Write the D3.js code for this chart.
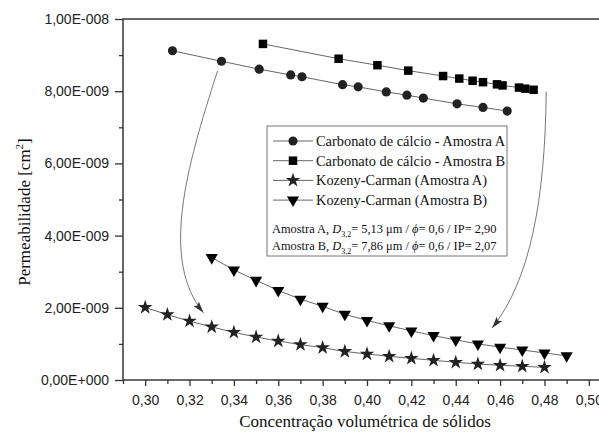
<!DOCTYPE html>
<html>
<head>
<meta charset="utf-8">
<script src="https://cdn.jsdelivr.net/npm/d3@7"></script>
<style>
  body { margin: 0; background: #fff; }
  svg { display: block; }
  .tick text { font-family: "Liberation Sans", Arial, sans-serif; font-size: 14px; fill: #222; }
  .serif { font-family: "Liberation Serif", "Times New Roman", serif; fill: #111; }
</style>
</head>
<body>
<div id="chart"></div>
<script>
// data (permeability in cm2)
var carbA_x = [0.3123, 0.3344, 0.3514, 0.3656, 0.3707, 0.3890, 0.3960, 0.4087, 0.4180, 0.4254, 0.4406, 0.4523, 0.4632];
var carbA_y = [9.12e-9, 8.83e-9, 8.61e-9, 8.45e-9, 8.40e-9, 8.18e-9, 8.12e-9, 7.98e-9, 7.89e-9, 7.81e-9, 7.65e-9, 7.55e-9, 7.45e-9];

var carbB_x = [0.3531, 0.3872, 0.4047, 0.4186, 0.4343, 0.4416, 0.4476, 0.4523, 0.4586, 0.4611, 0.4685, 0.4713, 0.4751];
var carbB_y = [9.31e-9, 8.90e-9, 8.72e-9, 8.57e-9, 8.42e-9, 8.35e-9, 8.29e-9, 8.25e-9, 8.19e-9, 8.16e-9, 8.10e-9, 8.07e-9, 8.04e-9];

var kozA_x = [0.30, 0.31, 0.32, 0.33, 0.34, 0.35, 0.36, 0.37, 0.38, 0.39, 0.40, 0.41, 0.42, 0.43, 0.44, 0.45, 0.46, 0.47, 0.48];
var kozA_y = [2.01e-9, 1.81e-9, 1.63e-9, 1.47e-9, 1.32e-9, 1.19e-9, 1.08e-9, 0.98e-9, 0.895e-9, 0.79e-9, 0.72e-9, 0.656e-9, 0.60e-9, 0.545e-9, 0.49e-9, 0.443e-9, 0.407e-9, 0.38e-9, 0.35e-9];

var kozB_x = [0.33, 0.34, 0.35, 0.36, 0.37, 0.38, 0.39, 0.40, 0.41, 0.42, 0.43, 0.44, 0.45, 0.46, 0.47, 0.48, 0.49];
var kozB_y = [3.39e-9, 3.05e-9, 2.76e-9, 2.48e-9, 2.24e-9, 2.04e-9, 1.82e-9, 1.65e-9, 1.50e-9, 1.36e-9, 1.23e-9, 1.11e-9, 1.00e-9, 0.91e-9, 0.83e-9, 0.75e-9, 0.67e-9];

var xTicks = [0.30, 0.32, 0.34, 0.36, 0.38, 0.40, 0.42, 0.44, 0.46, 0.48, 0.50];
var xTickLabels = ["0,30", "0,32", "0,34", "0,36", "0,38", "0,40", "0,42", "0,44", "0,46", "0,48", "0,50"];
var yTicks = [0, 2e-9, 4e-9, 6e-9, 8e-9, 1e-8];
var yTickLabels = ["0,00E+000", "2,00E-009", "4,00E-009", "6,00E-009", "8,00E-009", "1,00E-008"];

var seriesNames = ["Carbonato de cálcio - Amostra A", "Carbonato de cálcio - Amostra B",
                   "Kozeny-Carman (Amostra A)", "Kozeny-Carman (Amostra B)"];

// arrows (data coords: start, control1, control2, end)
var arrow1 = [[0.3326, 8.56e-9], [0.3182, 5.82e-9], [0.3069, 3.32e-9], [0.3263, 1.86e-9]];
var arrow2 = [[0.4808, 7.99e-9], [0.4803, 4.99e-9], [0.4736, 2.77e-9], [0.4564, 1.44e-9]];

var W = 599, H = 435;
var plot = {left: 123, top: 19, right: 611, bottom: 380};

var svg = d3.select('#chart').append('svg')
    .attr('width', W).attr('height', H);

var x = d3.scaleLinear().domain([0.29, 0.51]).range([plot.left, plot.right]);
var y = d3.scaleLinear().domain([0, 1e-8]).range([plot.bottom, plot.top]);

// frame
svg.append('rect')
    .attr('x', plot.left).attr('y', plot.top)
    .attr('width', plot.right - plot.left).attr('height', plot.bottom - plot.top)
    .attr('fill', 'none').attr('stroke', '#444').attr('stroke-width', 1.6);

// axes
var xMinor = d3.range(0.29, 0.5101, 0.01).filter(function (v) { return Math.round(v * 100) % 2 === 1; });
svg.append('g').attr('transform', 'translate(0,' + plot.bottom + ')')
    .call(d3.axisBottom(x).tickValues(xMinor).tickSize(4).tickFormat(''))
    .call(function (g) { g.select('.domain').remove(); g.selectAll('line').attr('stroke', '#333').attr('stroke-width', 1.3); });
svg.append('g').attr('transform', 'translate(0,' + plot.bottom + ')')
    .call(d3.axisBottom(x).tickValues(xTicks).tickSize(6).tickPadding(9)
        .tickFormat(function (d, i) { return xTickLabels[i]; }))
    .call(function (g) { g.select('.domain').remove(); g.selectAll('line').attr('stroke', '#333').attr('stroke-width', 1.3); });

var yMinor = [1e-9, 3e-9, 5e-9, 7e-9, 9e-9];
svg.append('g').attr('transform', 'translate(' + plot.left + ',0)')
    .call(d3.axisLeft(y).tickValues(yMinor).tickSize(4).tickFormat(''))
    .call(function (g) { g.select('.domain').remove(); g.selectAll('line').attr('stroke', '#333').attr('stroke-width', 1.3); });
svg.append('g').attr('transform', 'translate(' + plot.left + ',0)')
    .call(d3.axisLeft(y).tickValues(yTicks).tickSize(8).tickPadding(6)
        .tickFormat(function (d, i) { return yTickLabels[i]; }))
    .call(function (g) { g.select('.domain').remove(); g.selectAll('line').attr('stroke', '#333').attr('stroke-width', 1.3); });

// axis titles
svg.append('text').attr('class', 'serif')
    .attr('x', (x(0.30) + x(0.50)) / 2 - 2).attr('y', 427)
    .attr('text-anchor', 'middle').style('font-size', '17px')
    .text('Concentração volumétrica de sólidos');

var yt = svg.append('text').attr('class', 'serif')
    .attr('transform', 'translate(30,212) rotate(-90)')
    .attr('text-anchor', 'middle').style('font-size', '17px');
yt.append('tspan').text('Permeabilidade [cm');
yt.append('tspan').attr('dy', -7).style('font-size', '11px').text('2');
yt.append('tspan').attr('dy', 7).text(']');

// arrows
var defs = svg.append('defs');
defs.append('marker').attr('id', 'ah')
    .attr('viewBox', '0 0 10 6').attr('refX', 10).attr('refY', 3)
    .attr('markerWidth', 12).attr('markerHeight', 7).attr('markerUnits', 'userSpaceOnUse')
    .attr('orient', 'auto')
    .append('path').attr('d', 'M0,0 L10,3 L0,6 L2,3 Z').attr('fill', '#333');

function arrowPath(a) {
    var p = a.map(function (d) { return [x(d[0]), y(d[1])]; });
    var path = d3.path();
    path.moveTo(p[0][0], p[0][1]);
    path.bezierCurveTo(p[1][0], p[1][1], p[2][0], p[2][1], p[3][0], p[3][1]);
    return path.toString();
}
[arrow1, arrow2].forEach(function (a) {
    svg.append('path').attr('d', arrowPath(a))
        .attr('fill', 'none').attr('stroke', '#777').attr('stroke-width', 1)
        .attr('marker-end', 'url(#ah)');
});

// series
var series = [
    {xs: carbA_x, ys: carbA_y, sym: d3.symbolCircle, size: 66, rot: 0, fill: '#222'},
    {xs: carbB_x, ys: carbB_y, sym: d3.symbolSquare, size: 72, rot: 0, fill: '#000'},
    {xs: kozA_x, ys: kozA_y, sym: d3.symbolStar, size: 66, rot: 0, fill: '#222'},
    {xs: kozB_x, ys: kozB_y, sym: d3.symbolTriangle, size: 64, rot: 180, fill: '#000'}
];

var line = d3.line().x(function (d) { return x(d[0]); }).y(function (d) { return y(d[1]); });

series.forEach(function (s) {
    var data = s.xs.map(function (v, i) { return [v, s.ys[i]]; });
    svg.append('path').datum(data)
        .attr('fill', 'none').attr('stroke', '#666').attr('stroke-width', 1)
        .attr('d', line);
    svg.append('g').selectAll('path')
        .data(data).enter().append('path')
        .attr('d', d3.symbol().type(s.sym).size(s.size))
        .attr('transform', function (d) { return 'translate(' + x(d[0]) + ',' + y(d[1]) + ') rotate(' + s.rot + ')'; })
        .attr('fill', s.fill);
});

// legend
var lg = svg.append('g').attr('transform', 'translate(267,126)');
lg.append('rect').attr('width', 240).attr('height', 130)
    .attr('fill', '#fff').attr('stroke', '#777').attr('stroke-width', 1);

series.forEach(function (s, i) {
    var row = lg.append('g').attr('transform', 'translate(0,' + (15 + i * 19.7) + ')');
    row.append('line').attr('x1', 6).attr('x2', 46).attr('y1', 0).attr('y2', 0)
        .attr('stroke', '#666').attr('stroke-width', 1);
    row.append('path')
        .attr('d', d3.symbol().type(s.sym).size(s.size))
        .attr('transform', 'translate(26,0) rotate(' + s.rot + ')')
        .attr('fill', s.fill);
    row.append('text').attr('class', 'serif')
        .attr('x', 49).attr('y', 5).style('font-size', '14.4px')
        .text(seriesNames[i]);
});

var notes = [
    {label: 'Amostra A, ', d: '5,13', ip: '2,90'},
    {label: 'Amostra B, ', d: '7,86', ip: '2,07'}
];
notes.forEach(function (n, i) {
    var t = lg.append('text').attr('class', 'serif')
        .attr('x', 5).attr('y', 107 + i * 17).style('font-size', '12.4px');
    t.append('tspan').text(n.label);
    t.append('tspan').style('font-style', 'italic').text('D');
    t.append('tspan').attr('dy', 4).style('font-size', '8px').text('3,2');
    t.append('tspan').attr('dy', -4).text('= ' + n.d + ' μm / ');
    t.append('tspan').style('font-style', 'italic').text('ϕ');
    t.append('tspan').text('= 0,6 / IP= ' + n.ip);
});
</script>
</body>
</html>
